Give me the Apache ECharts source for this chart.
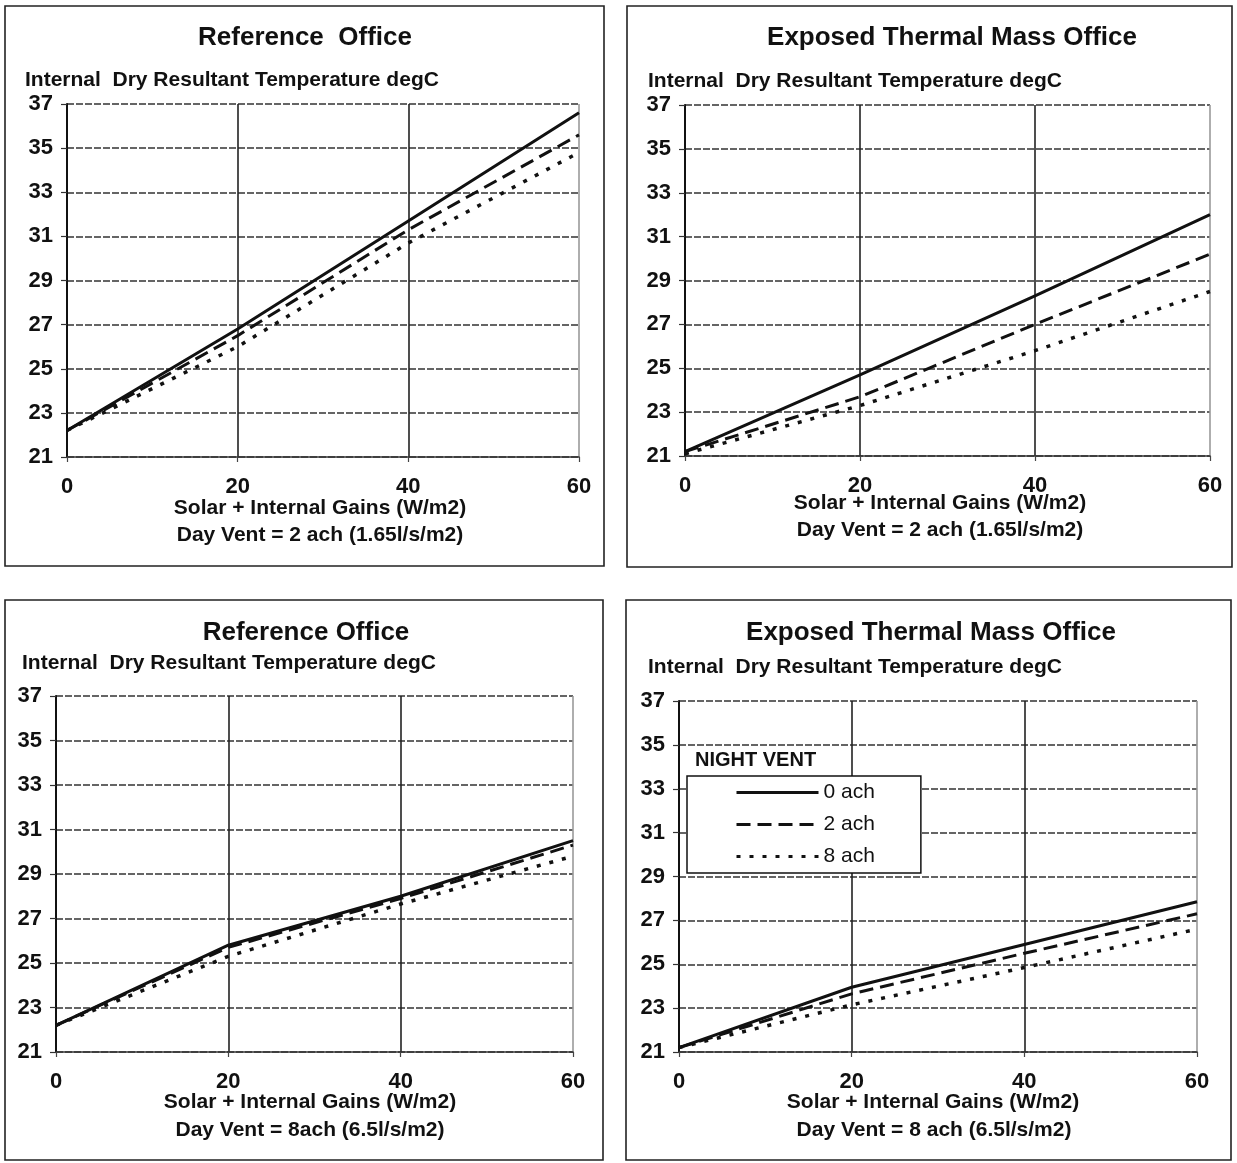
<!DOCTYPE html>
<html>
<head>
<meta charset="utf-8">
<script src="https://cdn.jsdelivr.net/npm/echarts@6/dist/echarts.min.js"></script>
<style>
html,body{margin:0;padding:0;background:#fff;}
#c{width:1237px;height:1163px;}
</style>
</head>
<body>
<div id="c"></div>
<script>
// ---- data ----
const gains = [0, 20, 40, 60];                 // Solar + Internal Gains (W/m2)
const seriesNames = ['0 ach', '2 ach', '8 ach']; // night vent rates

// Reference Office, Day Vent = 2 ach
const refDay2_0ach = [22.2, 26.8, 31.7, 36.6];
const refDay2_2ach = [22.2, 26.5, 31.3, 35.6];
const refDay2_8ach = [22.2, 26.0, 30.7, 34.8];
// Exposed Thermal Mass Office, Day Vent = 2 ach
const etmDay2_0ach = [21.2, 24.7, 28.3, 32.0];
const etmDay2_2ach = [21.2, 23.7, 27.0, 30.2];
const etmDay2_8ach = [21.1, 23.3, 25.8, 28.5];
// Reference Office, Day Vent = 8 ach
const refDay8_0ach = [22.2, 25.8, 28.0, 30.5];
const refDay8_2ach = [22.2, 25.7, 27.9, 30.3];
const refDay8_8ach = [22.2, 25.3, 27.65, 29.8];
// Exposed Thermal Mass Office, Day Vent = 8 ach
const etmDay8_0ach = [21.2, 23.95, 25.9, 27.85];
const etmDay8_2ach = [21.2, 23.65, 25.5, 27.3];
const etmDay8_8ach = [21.2, 23.15, 24.85, 26.6];

const yMin = 21, yMax = 37, yStep = 2;
const xMin = 0, xMax = 60, xStep = 20;

const titles = ['Reference  Office', 'Exposed Thermal Mass Office', 'Reference Office', 'Exposed Thermal Mass Office'];
const yName = 'Internal  Dry Resultant Temperature degC';
const xName = 'Solar + Internal Gains (W/m2)';
const dayVent = ['Day Vent = 2 ach (1.65l/s/m2)', 'Day Vent = 2 ach (1.65l/s/m2)', 'Day Vent = 8ach (6.5l/s/m2)', 'Day Vent = 8 ach (6.5l/s/m2)'];
const legendTitle = 'NIGHT VENT';

// ---- layout ----
const FF = '"Liberation Sans", Arial, Helvetica, sans-serif';
const panels = [
  {grid:{left:67, top:104, width:512, height:353}, box:[5,6,599,560], title:[305,38], yname:[25,80], xname:[320,508], dv:[320,535], data:[refDay2_0ach, refDay2_2ach, refDay2_8ach]},
  {grid:{left:685, top:105, width:525, height:351}, box:[627,6,605,561], title:[952,38], yname:[648,81], xname:[940,503], dv:[940,530], data:[etmDay2_0ach, etmDay2_2ach, etmDay2_8ach]},
  {grid:{left:56, top:696, width:517, height:356}, box:[5,600,598,560], title:[306,633], yname:[22,663], xname:[310,1102], dv:[310,1130], data:[refDay8_0ach, refDay8_2ach, refDay8_8ach]},
  {grid:{left:679, top:701, width:518, height:351}, box:[626,600,605,560], title:[931,633], yname:[648,667], xname:[933,1102], dv:[934,1130], data:[etmDay8_0ach, etmDay8_2ach, etmDay8_8ach]}
];
const lineTypes = ['solid', [14, 7], [4, 9]];

const grids = [], xAxes = [], yAxes = [], series = [], graphics = [];
function txt(x, y, s, font, align) {
  graphics.push({type:'text', x:x, y:y, silent:true, z:10,
    style:{text:s, font:font, fill:'#111', align:align, verticalAlign:'middle', textAlign:align, textVerticalAlign:'middle'}});
}
panels.forEach((p, i) => {
  grids.push(Object.assign({containLabel:false}, p.grid));
  xAxes.push({
    type:'value', gridIndex:i, min:xMin, max:xMax, interval:xStep,
    axisLine:{show:true, onZero:false, lineStyle:{color:'#333', width:1.5}},
    axisTick:{show:true, length:5, lineStyle:{color:'#444', width:1.2}},
    axisLabel:{color:'#111', fontSize:22, fontWeight:'bold', fontFamily:FF, margin:19},
    splitLine:{show:true, lineStyle:{color:['#222','#222','#222','#9a9a9a'], width:1.6, type:'solid'}}
  });
  yAxes.push({
    type:'value', gridIndex:i, min:yMin, max:yMax, interval:yStep,
    axisLine:{show:true, lineStyle:{color:'#111', width:2}},
    axisTick:{show:true, length:6, lineStyle:{color:'#333', width:1.2}},
    axisLabel:{color:'#111', fontSize:22, fontWeight:'bold', fontFamily:FF, margin:14},
    splitLine:{show:true, lineStyle:{color:'#333', width:1.6, type:[7,2]}}
  });
  p.data.forEach((vals, k) => {
    series.push({
      name: i === 3 ? seriesNames[k] : ('p' + (i+1) + ' ' + seriesNames[k]),
      type:'line', xAxisIndex:i, yAxisIndex:i, symbol:'none', silent:true,
      data: gains.map((g, j) => [g, vals[j]]),
      lineStyle:{color:'#111', width: k === 2 ? 3.5 : 3, type: lineTypes[k]},
      itemStyle:{color:'#111'}, z:5
    });
  });
  graphics.push({type:'rect', shape:{x:p.box[0], y:p.box[1], width:p.box[2], height:p.box[3]}, silent:true, z:1,
    style:{fill:null, stroke:'#222', lineWidth:1.6}});
  txt(p.title[0], p.title[1], titles[i], 'bold 26px ' + FF, 'center');
  txt(p.yname[0], p.yname[1], yName, 'bold 21px ' + FF, 'left');
  txt(p.xname[0], p.xname[1], xName, 'bold 21px ' + FF, 'center');
  txt(p.dv[0], p.dv[1], dayVent[i], 'bold 21px ' + FF, 'center');
});
txt(695, 760, legendTitle, 'bold 20px ' + FF, 'left');

const chart = echarts.init(document.getElementById('c'), null, {renderer:'canvas'});
chart.setOption({
  backgroundColor:'#fff',
  animation:false,
  grid:grids, xAxis:xAxes, yAxis:yAxes, series:series,
  legend:{
    data:seriesNames, orient:'vertical', left:687, top:776, selectedMode:false,
    padding:[6,46,6,48], itemGap:11, itemWidth:82, itemHeight:14,
    itemStyle:{opacity:0},
    lineStyle:{width:3},
    borderColor:'#111', borderWidth:1.5, backgroundColor:'#fff',
    textStyle:{fontSize:21, color:'#111', fontFamily:FF}
  },
  graphic:graphics
});
</script>
</body>
</html>
